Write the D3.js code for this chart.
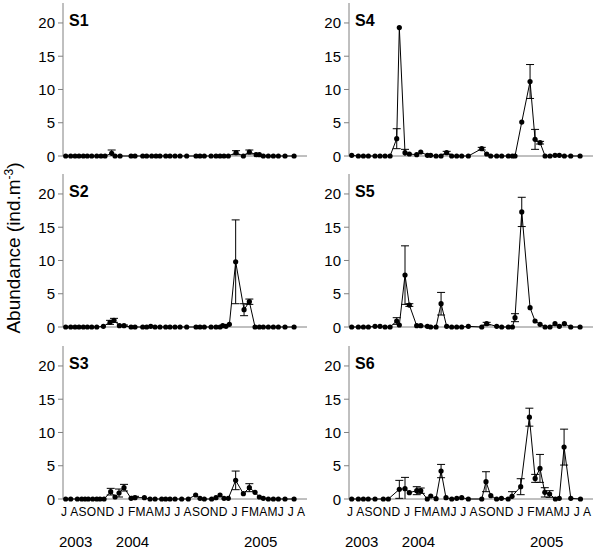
<!DOCTYPE html>
<html>
<head>
<meta charset="utf-8">
<script src="https://cdn.jsdelivr.net/npm/d3@7"></script>
<style>
  body { margin: 0; background: #fff; }
  text { font-family: Arial, "Liberation Sans", sans-serif; fill: #000; }
</style>
</head>
<body>
<svg width="600" height="550"></svg>
<script>
// each row: [months since 1 Jul 2003, abundance (ind.m-3), error]
const s1 = [[0.57,0],[1.09,0],[1.54,0],[1.95,0],[2.40,0],[2.81,0],[3.27,0],[3.79,0],[4.23,0],[4.65,0],
  [5.34,0.4,0.5],[5.69,0],[6.21,0],[7.35,0],[7.76,0],[8.56,0],[8.97,0],[9.49,0],[9.94,0],[10.35,0],
  [10.95,0],[11.39,0],[11.91,0],[12.43,0],[13.12,0],[14.09,0],[14.5,0],[14.95,0],[15.65,0],[16.16,0],
  [16.58,0],[16.99,0],[17.44,0],[18.24,0.5,0.3],[19.0,0],[19.62,0.6,0.3],[20.32,0.2],[20.66,0.2],
  [21.07,0],[21.59,0],[22.11,0],[22.63,0],[23.32,0],[24.26,0]];

const s2 = [[0.57,0],[1.09,0],[1.54,0],[1.95,0],[2.40,0],[2.82,0],[3.27,0],[3.79,0],[4.48,0.1],
  [5.17,0.7,0.3],[5.58,1.0,0.3],[6.14,0.2],[6.62,0.2,0.1],[7.35,0],[7.76,0],[8.56,0],[8.97,0],[9.39,0.1],
  [9.84,0],[10.35,0],[10.94,0],[11.39,0],[11.91,0],[12.43,0],[13.12,0],[14.09,0],[14.5,0],[14.95,0],
  [15.65,0],[16.16,0],[16.58,0],[16.86,0.2],[17.2,0.1],[17.55,0.4],[18.2,9.8,6.3],[19.07,2.6,0.9],
  [19.62,3.8,0.4],[20.21,0],[20.66,0],[21.07,0],[21.59,0],[22.11,0],[22.63,0],[23.32,0],[24.26,0]];

const s3 = [[0.57,0],[1.09,0],[1.78,0],[2.23,0],[2.58,0],[2.92,0],[3.37,0],[3.79,0],[4.13,0],[4.55,0],
  [5.24,1.1,0.5],[5.69,0.3],[6.10,0.9,0.6],[6.62,1.7,0.5],[7.35,0.1],[7.76,0.2,0.2],[8.73,0.2],[9.32,0],
  [9.84,0],[10.53,0],[10.94,0],[11.39,0],[11.91,0],[12.60,0],[13.29,0],[14.05,0.6],[14.5,0.1],[14.95,0],
  [15.71,0],[16.16,0.2],[16.58,0.6],[16.99,0.1],[17.44,0.1],[18.2,2.8,1.4],[19.0,0.8],[19.62,1.7,0.6],
  [20.21,1.0],[20.66,0.3],[21.07,0.1],[21.59,0],[22.11,0],[22.63,0],[23.32,0],[24.26,0]];

const s4 = [[0.57,0.1],[1.26,0],[1.78,0],[2.30,0],[2.99,0],[3.51,0],[4.03,0],[4.55,0],[5.24,2.6,1.5],
  [5.51,19.3],[6.10,0.5,0.5],[6.55,0.3],[7.31,0.2],[7.73,0.6],[8.42,0.1],[8.76,0.1],[9.32,0],[9.84,0],
  [10.42,0.5,0.2],[10.94,0],[11.46,0],[11.98,0],[12.67,0],[14.06,1.1,0.2],[14.57,0.3],[14.99,0],[15.61,0],
  [16.13,0],[16.82,0],[17.24,0],[17.51,0],[18.21,5.1],[19.07,11.2,2.55],[19.59,2.5,1.5],[20.11,2.0,0.2],
  [20.63,0],[21.14,0],[21.66,0.1],[22.11,0.1],[22.63,0],[23.29,0],[24.26,0]];

const s5 = [[0.57,0],[1.26,0],[1.78,0],[2.30,0],[2.99,0.1],[3.51,0.1],[4.03,0],[4.55,0],[5.24,0.9,0.5],
  [5.51,0.3],[6.10,7.8,4.4],[6.55,3.3,0.2],[7.31,0.2],[7.73,0.2],[8.42,0.1],[8.76,0],[9.32,0],[9.84,3.5,1.7],
  [10.42,0.1],[10.94,0],[11.46,0],[11.98,0],[12.67,0.1],[14.06,0],[14.57,0.5,0.2],[15.61,0.1],[16.13,0],
  [16.82,0],[17.24,0],[17.51,1.4,0.6],[18.21,17.3,2.2],[19.07,2.9],[19.59,0.9],[20.11,0.4],[20.63,0],
  [21.14,0],[21.66,0.5],[22.11,0.1],[22.63,0.5],[23.29,0],[24.26,0]];

const s6 = [[0.57,0],[1.26,0],[1.78,0],[2.29,0],[2.99,0],[3.85,0],[4.37,0],[5.51,1.45,1.35],[6.10,1.55,1.7],
  [6.55,0.95],[7.32,1.25,0.6],[7.73,1.25,0.4],[8.41,0],[8.77,0.45],[9.32,0.05],[9.84,4.2,1.0],[10.35,0.2],
  [10.95,0],[11.47,0.1],[11.98,0.2],[12.67,0],[14.06,0],[14.5,2.6,1.5],[15.0,0.5],[15.6,0],[16.1,0.1],
  [16.8,0],[17.2,0.4,0.7],[18.1,1.85,1.2],[19.0,12.3,1.35],[19.6,3.1,0.6],[20.1,4.6,2.1],[20.6,1.0,0.7],
  [21.1,0.75,0.5],[21.7,0],[22.1,0.1],[22.6,7.8,2.7],[23.3,0.1],[24.3,0]];

const stations = ["S1", "S2", "S3", "S4", "S5", "S6"];
const series = [s1, s2, s3, s4, s5, s6];
const yTicks = [0, 5, 10, 15, 20];
const monthLetters = "J ASOND J FMAMJ J ASOND J FMAMJ J A";
const years = ["2003", "2004", "2005"];
const yearAt = [1.6, 7.5, 20.8];   // month position of year labels

var svg = d3.select('svg');

var colX = [63, 349], rowY = [156, 327, 499];
var plotW = 244, plotH = 153;

var x = d3.scaleLinear().domain([0.29, 25.6]).range([0, plotW]);
var y = d3.scaleLinear().domain([0, 23]).range([0, -plotH]);

var line = d3.line().x(d => x(d[0])).y(d => y(d[1]));

series.forEach((data, i) => {
    var col = Math.floor(i / 3), row = i % 3;
    var g = svg.append('g').attr('transform', `translate(${colX[col]},${rowY[row]})`);

    /* ----------- axes ----------- */
    g.append('line')
        .attr('x1', 0).attr('x2', plotW).attr('y1', 0).attr('y2', 0)
        .attr('stroke', '#808080');
    g.append('line')
        .attr('x1', 0).attr('x2', 0).attr('y1', 0).attr('y2', -plotH)
        .attr('stroke', '#808080');

    g.selectAll('line.ytick').data(yTicks).enter().append('line')
        .attr('class', 'ytick')
        .attr('x1', -5).attr('x2', 0)
        .attr('y1', d => y(d)).attr('y2', d => y(d))
        .attr('stroke', '#808080');

    g.selectAll('text.ylab').data(yTicks).enter().append('text')
        .attr('class', 'ylab')
        .attr('x', -8).attr('y', d => y(d) + 5.5)
        .attr('text-anchor', 'end')
        .attr('font-size', 15)
        .text(d => d);

    g.append('text')
        .attr('x', 6).attr('y', -130)
        .attr('font-size', 16).attr('font-weight', 'bold')
        .text(stations[i]);

    /* ----------- series ----------- */
    g.append('path')
        .datum(data)
        .attr('fill', 'none')
        .attr('stroke', '#000')
        .attr('stroke-width', 1)
        .attr('d', line);

    var eb = g.selectAll('g.err').data(data.filter(d => d[2])).enter().append('g').attr('class', 'err');
    eb.append('line')
        .attr('x1', d => x(d[0])).attr('x2', d => x(d[0]))
        .attr('y1', d => y(Math.max(0, d[1] - d[2]))).attr('y2', d => y(d[1] + d[2]))
        .attr('stroke', '#000');
    eb.append('line')
        .attr('x1', d => x(d[0]) - 4).attr('x2', d => x(d[0]) + 4)
        .attr('y1', d => y(d[1] + d[2])).attr('y2', d => y(d[1] + d[2]))
        .attr('stroke', '#000');
    eb.filter(d => d[1] - d[2] > 0).append('line')
        .attr('x1', d => x(d[0]) - 4).attr('x2', d => x(d[0]) + 4)
        .attr('y1', d => y(d[1] - d[2])).attr('y2', d => y(d[1] - d[2]))
        .attr('stroke', '#000');

    g.selectAll('circle').data(data).enter().append('circle')
        .attr('cx', d => x(d[0]))
        .attr('cy', d => y(d[1]))
        .attr('r', 2.6)
        .attr('fill', '#000');

    /* ----------- month / year labels ----------- */
    if (row === 2) {
        g.append('text')
            .attr('x', -2).attr('y', 17)
            .attr('font-size', 12)
            .attr('textLength', 244)
            .attr('lengthAdjust', 'spacing')
            .style('white-space', 'pre')
            .text(monthLetters);

        g.selectAll('text.year').data(years).enter().append('text')
            .attr('class', 'year')
            .attr('x', (d, k) => x(yearAt[k]))
            .attr('y', 48)
            .attr('text-anchor', 'middle')
            .attr('font-size', 15)
            .text(d => d);
    }
});

svg.append('text')
    .attr('transform', 'translate(20,248) rotate(-90)')
    .attr('text-anchor', 'middle')
    .attr('font-size', 19)
    .call(t => {
        t.append('tspan').text('Abundance (ind.m');
        t.append('tspan').attr('font-size', 12).attr('dy', -7).text('-3');
        t.append('tspan').attr('dy', 7).text(')');
    });
</script>
</body>
</html>
